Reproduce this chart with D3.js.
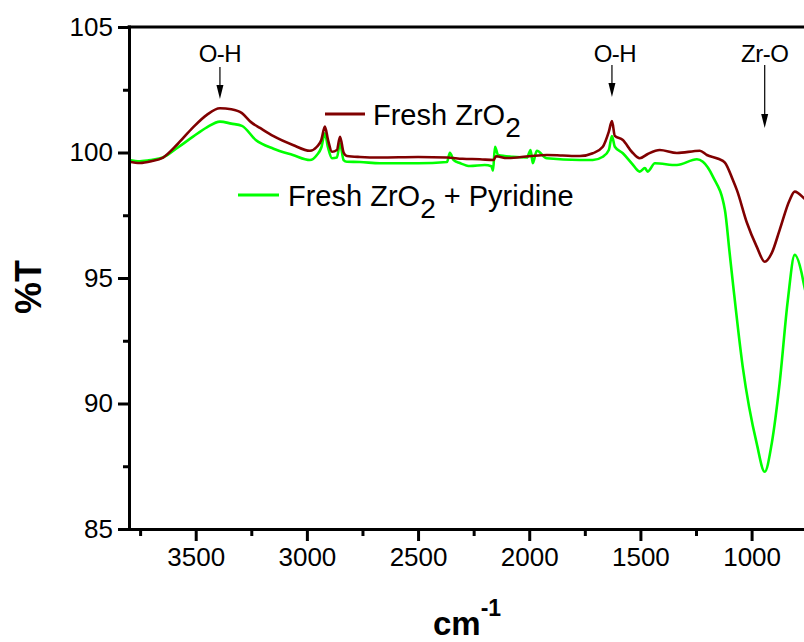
<!DOCTYPE html>
<html><head><meta charset="utf-8">
<script src="https://cdn.jsdelivr.net/npm/d3@7"></script>
<style>
body{margin:0;background:#fff;}
text{font-family:"Liberation Sans",Arial,sans-serif;}
</style></head>
<body><svg id="c" width="804" height="642"></svg>
<script>
// Fresh ZrO2 (wavenumber cm-1, %T)
const freshWN = [3800,3751,3700,3647,3580,3512,3450,3391,3340,3292,3250,3211,3150,3063,2986,2955,2935,2919,2905,2887,2865,2851,2835,2820,2761,2672,2500,2370,2300,2222,2160,2150,2100,2000,1921,1850,1772,1714,1669,1642,1628,1615,1579,1539,1503,1467,1413,1336,1233,1201,1150,1120,1084,1066,1021,977,941,909,874,829,806,766,730];
const freshT  = [99.63,99.58,99.65,99.8,100.35,101.0,101.5,101.76,101.72,101.57,101.2,100.98,100.65,100.3,100.07,100.23,100.5,101.03,100.5,100.03,100.1,100.63,100.0,99.86,99.82,99.8,99.82,99.8,99.75,99.73,99.7,99.85,99.78,99.85,99.9,99.88,99.86,99.97,100.23,100.83,101.25,100.66,100.5,100.03,99.77,99.94,100.1,99.98,100.07,99.9,99.75,99.6,98.9,98.5,97.2,96.25,95.65,96.0,96.91,98.1,98.44,98.19,97.8];
// Fresh ZrO2 + Pyridine
const pyrWN = [3800,3751,3700,3647,3580,3512,3450,3391,3340,3292,3230,3150,3063,2986,2955,2935,2919,2905,2887,2865,2851,2835,2820,2761,2672,2500,2370,2357,2340,2312,2267,2200,2170,2163,2154,2140,2074,2010,1994,1984,1966,1921,1772,1714,1669,1642,1628,1615,1579,1539,1503,1480,1467,1435,1336,1246,1219,1174,1120,1100,1084,1040,977,941,909,874,837,806,775,766,730];
const pyrT  = [99.7,99.65,99.7,99.8,100.2,100.63,101.0,101.23,101.15,101.06,100.5,100.15,99.9,99.7,99.9,100.2,100.76,100.2,99.77,99.8,100.37,99.7,99.63,99.62,99.57,99.57,99.62,99.99,99.7,99.58,99.46,99.5,99.45,99.27,100.23,99.9,99.83,99.8,100.1,99.57,100.07,99.77,99.7,99.7,99.83,100.1,100.66,100.23,99.97,99.57,99.24,99.38,99.24,99.57,99.5,99.73,99.63,99.04,97.71,96.1,94.8,91.47,88.41,87.28,88.43,90.8,94.12,95.92,95.2,94.8,93.5];
const xMajor = [3500,3000,2500,2000,1500,1000];
const xMinor = [3750,3250,2750,2250,1750,1250,750];
const yMajor = [85,90,95,100,105];
const yMinor = [87.5,92.5,97.5,102.5];
const seriesNames = ["Fresh ZrO", "Fresh ZrO"];
const annotations = [{label:"O-H", wn:3391}, {label:"O-H", wn:1628}, {label:"Zr-O", wn:941}];

const svg = d3.select("#c");
const L = 129, B = 529, T = 27;
const x = d3.scaleLinear().domain([3800, 400]).range([L, 885]);
const y = d3.scaleLinear().domain([85, 105]).range([B, T]);

svg.append("clipPath").attr("id","clip").append("rect")
  .attr("x", L).attr("y", T).attr("width", 804 - L).attr("height", B - T);

const line = d3.line().x(d => x(d[0])).y(d => y(d[1])).curve(d3.curveMonotoneX);
const fresh = freshWN.map((w,i)=>[w,freshT[i]]);
const pyr = pyrWN.map((w,i)=>[w,pyrT[i]]);
const RED = "#800000", GREEN = "#00ff00";

const g = svg.append("g").attr("clip-path","url(#clip)");
g.append("path").datum(pyr).attr("d", line).attr("fill","none").attr("stroke",GREEN).attr("stroke-width",2.6).attr("stroke-linejoin","round");
g.append("path").datum(fresh).attr("d", line).attr("fill","none").attr("stroke",RED).attr("stroke-width",2.6).attr("stroke-linejoin","round");

// axes
const xa = svg.append("g").attr("transform",`translate(0,${B})`)
  .call(d3.axisBottom(x).tickValues(xMajor).tickSize(12).tickSizeOuter(0).tickPadding(7).tickFormat(d3.format("d")));
const xm = svg.append("g").attr("transform",`translate(0,${B})`)
  .call(d3.axisBottom(x).tickValues(xMinor.filter(v=>x(v)<804)).tickSize(7).tickSizeOuter(0).tickFormat(""));
xm.select(".domain").remove();
const ya = svg.append("g").attr("transform",`translate(${L},0)`)
  .call(d3.axisLeft(y).tickValues(yMajor).tickSize(11).tickSizeOuter(0).tickPadding(5).tickFormat(d3.format("d")));
const ym = svg.append("g").attr("transform",`translate(${L},0)`)
  .call(d3.axisLeft(y).tickValues(yMinor).tickSize(6).tickSizeOuter(0).tickFormat(""));
ym.select(".domain").remove();
[xa,xm,ya,ym].forEach(a=>{
  a.selectAll("line").attr("stroke","#000").attr("stroke-width",3);
  a.selectAll(".domain").attr("stroke","#000").attr("stroke-width",3);
  a.selectAll("text").attr("font-size",26).attr("fill","#000").attr("font-family","Liberation Sans, Arial, sans-serif");
});
xa.select(".domain").attr("d",`M${L-1.5},0.5H804`);
ya.select(".domain").attr("d",`M0.5,${B}V${T-1.5}`);
svg.append("line").attr("x1",L-1.5).attr("x2",804).attr("y1",T).attr("y2",T).attr("stroke","#000").attr("stroke-width",3);

// axis titles
svg.append("text").attr("transform","translate(41,287) rotate(-90)").attr("text-anchor","middle")
  .attr("font-size",36).attr("font-weight","bold").text("%T");
const xt = svg.append("text").attr("x",433).attr("y",635).attr("font-size",33).attr("font-weight","bold");
xt.append("tspan").text("cm");
xt.append("tspan").attr("font-size",23).attr("dy",-19).text("-1");

// legend
const leg = [
  {name: seriesNames[0], color: RED, lx1: 325, lx2: 365, ly: 114, tx: 373, ty: 125, extra: ""},
  {name: seriesNames[1], color: GREEN, lx1: 238, lx2: 279, ly: 195, tx: 288, ty: 206, extra: " + Pyridine"}
];
leg.forEach(d=>{
  svg.append("line").attr("x1",d.lx1).attr("x2",d.lx2).attr("y1",d.ly).attr("y2",d.ly).attr("stroke",d.color).attr("stroke-width",3);
  const t = svg.append("text").attr("x",d.tx).attr("y",d.ty).attr("font-size",29).attr("fill","#000");
  t.append("tspan").text(d.name);
  t.append("tspan").attr("dy",12).attr("font-size",28).text("2");
  if (d.extra) t.append("tspan").attr("dy",-12).text(d.extra);
});

// annotations
const ann = [
  {i:0, ty:62, a1:67, a2:99},
  {i:1, ty:62, a1:65, a2:97},
  {i:2, ty:62, a1:65, a2:128}
];
ann.forEach(a=>{
  const d = annotations[a.i];
  const px = x(d.wn);
  svg.append("text").attr("x",px + (a.i==1?3:0)).attr("y",a.ty).attr("text-anchor","middle").attr("font-size",24).attr("letter-spacing",-0.5).text(d.label);
  svg.append("line").attr("x1",px).attr("x2",px).attr("y1",a.a1).attr("y2",a.a2-10).attr("stroke","#000").attr("stroke-width",1.2);
  svg.append("path").attr("d",`M${px-3.5},${a.a2-14}L${px+3.5},${a.a2-14}L${px},${a.a2}Z`).attr("fill","#000");
});
</script></body></html>
